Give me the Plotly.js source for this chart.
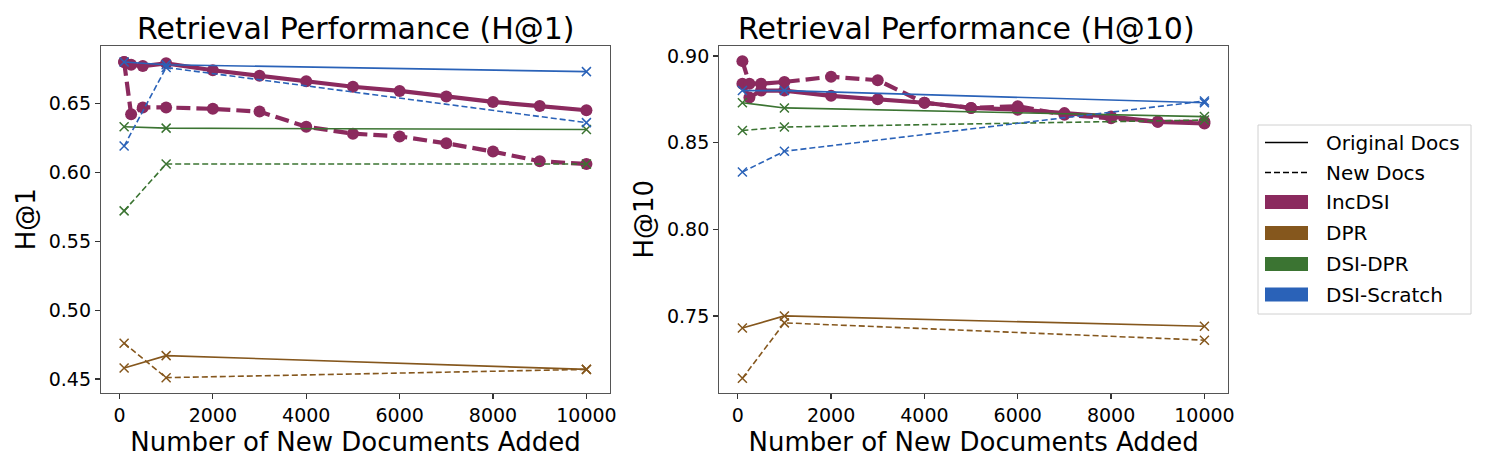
<!DOCTYPE html>
<html>
<head>
<meta charset="utf-8">
<script src="https://cdn.plot.ly/plotly-3.0.1.min.js"></script>
<style>html,body{margin:0;padding:0;background:#fff}#chart{width:1495px;height:467px}</style>
</head>
<body>
<div id="chart"></div>
<script>
// ---- data ----
const xInc = [100, 250, 500, 1000, 2000, 3000, 4000, 5000, 6000, 7000, 8000, 9000, 10000];
const xBase = [100, 1000, 10000];

// H@1
const incOrig1 = [0.680, 0.678, 0.677, 0.679, 0.674, 0.670, 0.666, 0.662, 0.659, 0.655, 0.651, 0.648, 0.645];
const incNew1  = [0.680, 0.642, 0.647, 0.647, 0.646, 0.644, 0.633, 0.628, 0.626, 0.621, 0.615, 0.608, 0.606];
const dprOrig1 = [0.458, 0.467, 0.457];
const dprNew1  = [0.476, 0.451, 0.457];
const dsiDprOrig1 = [0.633, 0.632, 0.631];
const dsiDprNew1  = [0.572, 0.606, 0.606];
const scratchOrig1 = [0.680, 0.678, 0.673];
const scratchNew1  = [0.619, 0.676, 0.636];

// H@10
const incOrig10 = [0.884, 0.876, 0.880, 0.880, 0.877, 0.875, 0.873, 0.870, 0.869, 0.867, 0.865, 0.862, 0.861];
const incNew10  = [0.897, 0.884, 0.884, 0.885, 0.888, 0.886, 0.873, 0.870, 0.871, 0.866, 0.864, 0.862, 0.862];
const dprOrig10 = [0.743, 0.750, 0.744];
const dprNew10  = [0.714, 0.746, 0.736];
const dsiDprOrig10 = [0.873, 0.870, 0.865];
const dsiDprNew10  = [0.857, 0.859, 0.863];
const scratchOrig10 = [0.880, 0.880, 0.873];
const scratchNew10  = [0.833, 0.845, 0.874];

const methods = ['IncDSI', 'DPR', 'DSI-DPR', 'DSI-Scratch'];
const xTicks = [0, 2000, 4000, 6000, 8000, 10000];
const yTicks1 = [0.45, 0.50, 0.55, 0.60, 0.65];
const yTicks10 = [0.75, 0.80, 0.85, 0.90];
const styleLabels = ['Original Docs', 'New Docs'];
const titles = ['Retrieval Performance (H@1)', 'Retrieval Performance (H@10)'];

// ---- styles ----
const colors = {'IncDSI': '#8B2A5E', 'DPR': '#85571D', 'DSI-DPR': '#3B7432', 'DSI-Scratch': '#2A62B8'};
const FONT = 'DejaVu Sans, sans-serif';

function incTrace(x, y, dashed, xa, ya) {
  return {
    x: x, y: y, xaxis: xa, yaxis: ya, type: 'scatter', mode: 'lines+markers', showlegend: false,
    line: {color: colors['IncDSI'], width: 4.2, dash: dashed ? '14px,6px' : 'solid'},
    marker: {symbol: 'circle', size: 12, color: colors['IncDSI']}
  };
}
function baseTrace(name, x, y, dashed, xa, ya) {
  return {
    x: x, y: y, xaxis: xa, yaxis: ya, type: 'scatter', mode: 'lines+markers', showlegend: false,
    line: {color: colors[name], width: 1.6, dash: dashed ? '6px,3px' : 'solid'},
    marker: {symbol: 'x-thin', size: 9, color: colors[name], line: {color: colors[name], width: 1.5}}
  };
}

const data = [
  incTrace(xInc, incOrig1, false, 'x', 'y'),
  incTrace(xInc, incNew1, true, 'x', 'y'),
  baseTrace('DPR', xBase, dprOrig1, false, 'x', 'y'),
  baseTrace('DPR', xBase, dprNew1, true, 'x', 'y'),
  baseTrace('DSI-DPR', xBase, dsiDprOrig1, false, 'x', 'y'),
  baseTrace('DSI-DPR', xBase, dsiDprNew1, true, 'x', 'y'),
  baseTrace('DSI-Scratch', xBase, scratchOrig1, false, 'x', 'y'),
  baseTrace('DSI-Scratch', xBase, scratchNew1, true, 'x', 'y'),

  incTrace(xInc, incOrig10, false, 'x2', 'y2'),
  incTrace(xInc, incNew10, true, 'x2', 'y2'),
  baseTrace('DPR', xBase, dprOrig10, false, 'x2', 'y2'),
  baseTrace('DPR', xBase, dprNew10, true, 'x2', 'y2'),
  baseTrace('DSI-DPR', xBase, dsiDprOrig10, false, 'x2', 'y2'),
  baseTrace('DSI-DPR', xBase, dsiDprNew10, true, 'x2', 'y2'),
  baseTrace('DSI-Scratch', xBase, scratchOrig10, false, 'x2', 'y2'),
  baseTrace('DSI-Scratch', xBase, scratchNew10, true, 'x2', 'y2')
];

const W = 1495, H = 467;
const px = v => v / W;
const py = v => 1 - v / H;

function xaxisDef(domain) {
  return {
    domain: domain, range: [-395, 10505], tickvals: xTicks, ticktext: xTicks.map(String),
    showline: true, mirror: true, linecolor: '#555', linewidth: 1.2,
    ticks: 'outside', ticklen: 5, tickwidth: 1.2, tickcolor: '#333',
    showgrid: false, zeroline: false, automargin: false,
    tickfont: {family: FONT, size: 19, color: '#000'},
    title: {text: 'Number of New Documents Added', font: {family: FONT, size: 26, color: '#000'}, standoff: 8}
  };
}
function yaxisDef(range, ticks, label, standoff) {
  return {
    domain: [py(392.7), py(45.7)], range: range, tickvals: ticks, ticktext: ticks.map(v => v.toFixed(2)),
    showline: true, mirror: true, linecolor: '#555', linewidth: 1.2,
    ticks: 'outside', ticklen: 5, tickwidth: 1.2, tickcolor: '#333',
    showgrid: false, zeroline: false, automargin: false,
    tickfont: {family: FONT, size: 19, color: '#000'},
    title: {text: label, font: {family: FONT, size: 26, color: '#000'}, standoff: standoff}
  };
}

// ---- legend (manual) ----
const legX0 = 1258, legX1 = 1471, legY0 = 125, legY1 = 314;
const rowY = [142.5, 172.5, 202, 233, 264, 294.5];
const shapes = [
  {type: 'rect', xref: 'paper', yref: 'paper', x0: px(legX0), x1: px(legX1), y0: py(legY1), y1: py(legY0),
   line: {color: '#d0d0d0', width: 1}, fillcolor: 'rgba(255,255,255,0.8)', layer: 'above'},
  {type: 'line', xref: 'paper', yref: 'paper', x0: px(1265), x1: px(1308), y0: py(rowY[0]), y1: py(rowY[0]),
   line: {color: '#000', width: 1.6}, layer: 'above'},
  {type: 'line', xref: 'paper', yref: 'paper', x0: px(1265), x1: px(1308), y0: py(rowY[1]), y1: py(rowY[1]),
   line: {color: '#000', width: 1.6, dash: '6px,3px'}, layer: 'above'}
];
methods.forEach((m, i) => {
  shapes.push({type: 'rect', xref: 'paper', yref: 'paper', x0: px(1265), x1: px(1308),
    y0: py(rowY[i + 2] + 7), y1: py(rowY[i + 2] - 7), line: {width: 0}, fillcolor: colors[m], layer: 'above'});
});
const legendLabels = styleLabels.concat(methods);
const annotations = legendLabels.map((t, i) => ({
  xref: 'paper', yref: 'paper', x: px(1324), y: py(rowY[i]), xanchor: 'left', yanchor: 'middle',
  text: t, showarrow: false, font: {family: FONT, size: 20, color: '#000'}
}));
annotations.push({xref: 'paper', yref: 'paper', x: px(355.5), y: py(28), xanchor: 'center', yanchor: 'middle',
  text: titles[0], showarrow: false, font: {family: FONT, size: 30, color: '#000'}});
annotations.push({xref: 'paper', yref: 'paper', x: px(966), y: py(28), xanchor: 'center', yanchor: 'middle',
  text: titles[1], showarrow: false, font: {family: FONT, size: 30, color: '#000'}});

const layout = {
  width: W, height: H, margin: {l: 0, r: 0, t: 0, b: 0},
  paper_bgcolor: '#fff', plot_bgcolor: '#fff', showlegend: false,
  font: {family: FONT, color: '#000'},
  xaxis: xaxisDef([px(101), px(610)]),
  yaxis: yaxisDef([0.4401, 0.6918], yTicks1, 'H@1', 5),
  xaxis2: Object.assign(xaxisDef([px(719.3), px(1228)]), {anchor: 'y2'}),
  yaxis2: Object.assign(yaxisDef([0.7057, 0.9059], yTicks10, 'H@10', 5), {anchor: 'x2'}),
  shapes: shapes, annotations: annotations
};

Plotly.newPlot('chart', data, layout, {staticPlot: true, displayModeBar: false});
</script>
</body>
</html>
